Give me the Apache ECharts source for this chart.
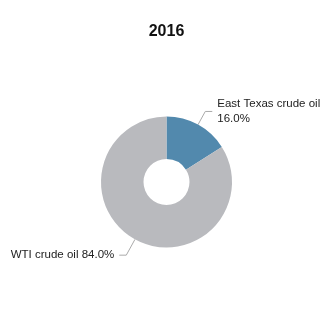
<!DOCTYPE html>
<html><head><meta charset="utf-8">
<script src="https://cdn.jsdelivr.net/npm/echarts@6/dist/echarts.min.js"></script>
<style>html,body{margin:0;padding:0;background:#fff}#c{width:333px;height:333px}</style>
</head><body><div id="c"></div>
<script>
const title = '2016';
const categories = ['East Texas crude oil', 'WTI crude oil'];
const values = [16.0, 84.0];
const colors = ['#5289ad', '#b9babe'];
const FONT = "'Liberation Sans', Arial, sans-serif";
const chart = echarts.init(document.getElementById('c'));
chart.setOption({
  animation: false,
  title: {text: title, left: 'center', top: 19, textStyle: {fontFamily: FONT, fontWeight: 'bold', fontSize: 16, color: '#111'}},
  series: [{
    type: 'pie',
    center: [166.5, 182],
    radius: [23, 65.5],
    startAngle: 90,
    clockwise: true,
    data: categories.map((n, i) => ({
      name: n, value: values[i], itemStyle: {color: colors[i]},
      label: {formatter: i === 0 ? n + '\n' + values[i].toFixed(1) + '%' : n + ' ' + values[i].toFixed(1) + '%'},
      labelLine: {length: i === 0 ? 15 : 18}
    })),
    label: {show: true, position: 'outside', fontFamily: FONT, fontSize: 11.5, color: '#222', lineHeight: 15, overflow: 'none'},
    labelLine: {show: true, length: 15, length2: 7, lineStyle: {color: '#aaa', width: 1}},
    emphasis: {disabled: true}
  }]
});
</script></body></html>
